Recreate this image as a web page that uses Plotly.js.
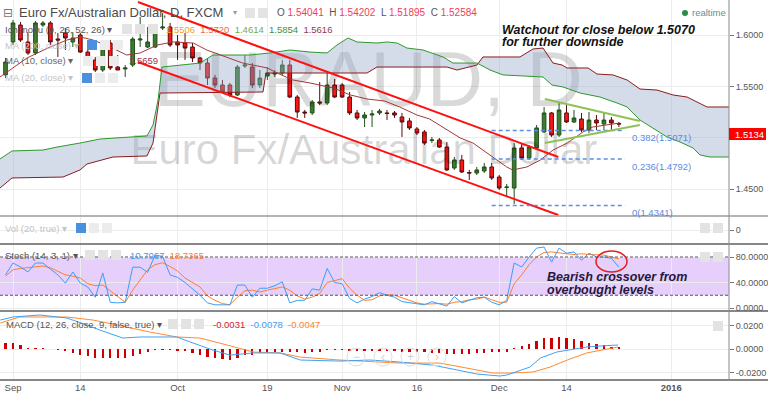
<!DOCTYPE html>
<html><head><meta charset="utf-8">
<script src="https://cdn.plot.ly/plotly-3.0.1.min.js"></script>
<style>html,body{margin:0;padding:0;background:#fff;}#chart{width:768px;height:396px;}</style>
</head><body><div id="chart"></div>
<script>
// ---------- DATA ----------
const dates = ['2015-08-31',
 '2015-09-01','2015-09-02','2015-09-03','2015-09-04','2015-09-07','2015-09-08','2015-09-09','2015-09-10','2015-09-11',
 '2015-09-14','2015-09-15','2015-09-16','2015-09-17','2015-09-18','2015-09-21','2015-09-22','2015-09-23','2015-09-24','2015-09-25',
 '2015-09-28','2015-09-29','2015-09-30',
 '2015-10-01','2015-10-02','2015-10-05','2015-10-06','2015-10-07','2015-10-08','2015-10-09','2015-10-12','2015-10-13','2015-10-14',
 '2015-10-15','2015-10-16','2015-10-19','2015-10-20','2015-10-21','2015-10-22','2015-10-23','2015-10-26','2015-10-27','2015-10-28',
 '2015-10-29','2015-10-30',
 '2015-11-02','2015-11-03','2015-11-04','2015-11-05','2015-11-06','2015-11-09','2015-11-10','2015-11-11','2015-11-12','2015-11-13',
 '2015-11-16','2015-11-17','2015-11-18','2015-11-19','2015-11-20','2015-11-23','2015-11-24','2015-11-25','2015-11-26','2015-11-27',
 '2015-11-30',
 '2015-12-01','2015-12-02','2015-12-03','2015-12-04','2015-12-07','2015-12-08','2015-12-09','2015-12-10','2015-12-11',
 '2015-12-14','2015-12-15','2015-12-16','2015-12-17','2015-12-18','2015-12-21','2015-12-22','2015-12-23'];

const open = [1.5611,1.5932,1.6097,1.5932,1.5825,1.6097,1.6117,1.5961,1.6020,1.5932,1.6000,1.5834,1.5757,1.5659,1.5922,1.5688,
 1.5669,1.5708,1.5951,1.5883,1.5883,1.6068,1.6078,1.5932,1.5922,1.5883,1.5776,1.5727,1.5581,1.5513,1.5513,1.5416,1.5698,1.5688,
 1.5513,1.5601,1.5620,1.5630,1.5708,1.5396,1.5250,1.5241,1.5348,1.5338,1.5513,1.5513,1.5396,1.5241,1.5192,1.5221,1.5241,1.5241,
 1.5241,1.5202,1.5163,1.5085,1.5056,1.4973,1.4978,1.4909,1.4705,1.4783,1.4661,1.4656,1.4676,1.4715,1.4617,1.4515,1.4510,1.4900,
 1.4802,1.4900,1.5056,1.5241,1.5026,1.5241,1.5153,1.5182,1.5075,1.5172,1.5133,1.5172,1.5138];
const high = [1.5776,1.6146,1.6127,1.6029,1.6136,1.6136,1.6136,1.6020,1.6068,1.6029,1.6020,1.5854,1.5786,1.5932,1.5951,1.5805,
 1.5708,1.5981,1.6175,1.6078,1.6097,1.6214,1.6117,1.6000,1.6020,1.5922,1.5786,1.5776,1.5611,1.5562,1.5533,1.5708,1.5805,1.5727,
 1.5659,1.5688,1.5659,1.5757,1.5757,1.5416,1.5270,1.5367,1.5542,1.5630,1.5572,1.5533,1.5445,1.5270,1.5250,1.5270,1.5280,1.5270,
 1.5260,1.5241,1.5192,1.5104,1.5075,1.5007,1.4997,1.4958,1.4812,1.4832,1.4686,1.4715,1.4754,1.4754,1.4637,1.4549,1.4948,1.4948,
 1.4929,1.5124,1.5299,1.5250,1.5338,1.5318,1.5270,1.5241,1.5250,1.5221,1.5241,1.5202,1.5153];
const low = [1.5581,1.5903,1.5932,1.5805,1.5805,1.6078,1.5903,1.5786,1.5854,1.5883,1.5825,1.5727,1.5640,1.5640,1.5659,1.5659,
 1.5591,1.5688,1.5883,1.5873,1.5873,1.6049,1.5883,1.5757,1.5757,1.5737,1.5659,1.5513,1.5484,1.5435,1.5396,1.5406,1.5679,1.5484,
 1.5484,1.5562,1.5591,1.5611,1.5387,1.5192,1.5192,1.5221,1.5318,1.5318,1.5387,1.5387,1.5221,1.5172,1.5104,1.5104,1.5221,1.5172,
 1.5192,1.5007,1.5075,1.5026,1.4929,1.4948,1.4900,1.4676,1.4686,1.4656,1.4588,1.4637,1.4656,1.4588,1.4491,1.4423,1.4354,1.4783,
 1.4783,1.4880,1.5046,1.5007,1.5007,1.5143,1.5143,1.5056,1.5046,1.5075,1.5075,1.5075,1.5104];
const close = [1.5737,1.6117,1.5951,1.5825,1.6117,1.6117,1.5932,1.5951,1.5971,1.5971,1.5834,1.5757,1.5659,1.5922,1.5679,1.5659,
 1.5679,1.5961,1.5961,1.5932,1.6078,1.6078,1.5903,1.5903,1.5873,1.5776,1.5727,1.5581,1.5513,1.5445,1.5416,1.5688,1.5708,1.5513,
 1.5581,1.5630,1.5630,1.5708,1.5396,1.5250,1.5241,1.5348,1.5338,1.5513,1.5396,1.5396,1.5241,1.5192,1.5221,1.5231,1.5260,1.5236,
 1.5221,1.5153,1.5095,1.5046,1.4948,1.4978,1.4909,1.4686,1.4783,1.4666,1.4656,1.4686,1.4715,1.4608,1.4510,1.4520,1.4900,1.4802,
 1.4909,1.5095,1.5241,1.5026,1.5270,1.5153,1.5192,1.5075,1.5172,1.5143,1.5172,1.5143,1.5133];

// Ichimoku cloud spans (trading-day position, price)
const spanBDay = [-1.74,-0.13,6.68,8.96,9.89,13.37,17.91,18.72,19.65,33.42,33.82,47.33,48.66,58.02,59.36,62.03,62.83,67.78,69.52,
 70.86,72.19,73.40,74.06,76.87,78.07,80.21,82.09,83.82,86.10,88.24,90.11,92.78,95.72];
const spanBVal = [1.4510,1.4608,1.4617,1.4686,1.4744,1.4812,1.4822,1.4948,1.5435,1.5445,1.5630,1.5630,1.5688,1.5688,1.5659,1.5708,
 1.5786,1.5786,1.5864,1.5873,1.5727,1.5708,1.5679,1.5679,1.5620,1.5611,1.5562,1.5474,1.5464,1.5416,1.5396,1.5299,1.5299];
const spanADay = [-1.74,-0.13,4.01,5.88,8.96,11.63,13.64,17.91,18.72,19.39,19.92,25.0,26.74,31.68,34.36,37.03,39.71,41.98,43.32,
 44.79,45.99,48.66,50.0,51.34,52.67,54.81,57.49,58.82,62.03,63.77,65.51,70.86,72.06,73.53,75.80,78.48,80.75,82.09,82.89,83.82,
 87.43,89.17,90.91,91.84,93.18,95.72];
const spanAVal = [1.4793,1.4871,1.4880,1.4909,1.4948,1.4987,1.4997,1.5017,1.5124,1.5367,1.5688,1.5727,1.5805,1.5805,1.5825,1.5854,
 1.5834,1.5825,1.5903,1.5971,1.5932,1.5922,1.5932,1.5922,1.5873,1.5854,1.5786,1.5727,1.5727,1.5659,1.5611,1.5591,1.5513,1.5494,
 1.5435,1.5396,1.5338,1.5299,1.5241,1.5172,1.5007,1.4958,1.4900,1.4832,1.4812,1.4812];

// MA (10, close)
const maDay = [-1.74,1.87,4.95,7.2,9.0,10.7,13.0,15.2,17.0,19.3,21.4,24.1,25.9,27.7,30.7,34.0,35.3,37.4,39.7,42.8,45.1,47.3,49.7,
 51.7,54.0,55.7,58.0,59.8,61.5,64.2,66.0,66.8,68.7,70.5,72.2,74.1,76.2,77.5,79.4,81.1];
const maVal = [1.5591,1.5776,1.5883,1.5951,1.5981,1.5951,1.5883,1.5805,1.5825,1.5903,1.5932,1.5922,1.5854,1.5805,1.5727,1.5679,
 1.5630,1.5562,1.5533,1.5484,1.5416,1.5377,1.5357,1.5299,1.5221,1.5182,1.5075,1.4997,1.4948,1.4812,1.4715,1.4686,1.4715,1.4783,
 1.4880,1.4948,1.5056,1.5104,1.5124,1.5143];

// drawn trend lines
const channelDay = [16.7, 72.9];
const channelUpper = [1.6321, 1.4812];
const channelLower = [1.5737, 1.4247];
const triDay = [71.1, 83.8];
const triUpper = [1.5377, 1.5163];
const triLower = [1.4948, 1.5124];
const fibLevels = [1.5071, 1.4792, 1.4341];
const fibLabels = ['0.382(1.5071)', '0.236(1.4792)', '0(1.4341)'];
const fibDays = [64.0, 81.8];

// Stochastic (14,3,1)
const stochK = [52,70.6,64.3,56.5,70.6,70.6,61,52,39,56.5,39,33,17,55,9,8,9,64,64,56,83,81,52,48,40,30,20,8,5,5,5,36,36,17,31,
 31,35,41,8,12,12,30,28,62,40,38,15,8,14,18,24,20,17,10,8,6,5,10,6,3,18,8,12,16,17,9,5,12,70.6,64.3,80,94,95.7,72,94,86,88,75,86,
 80,80,78,64];
const stochD = [50,60,62,63,65,66,63,58,52,50,47,38,35,36,27,18,9,28,45,60,68,71,65,58,47,40,33,19,12,7,5,17,27,28,25,28,31,33,
 28,19,14,17,23,40,43,46,31,20,12,13,19,21,20,16,12,8,6,7,7,6,9,10,13,14,17,13,9,9,38,52,68,80,87,88,86,85,84,85,84,83,83,80,77];

// MACD (12,26,close,9)
const macdHist = [0.0050,0.0055,0.0035,0.0010,0.0010,0.0010,0.0003,
 -0.0005,-0.0015,-0.0030,-0.0045,-0.0060,-0.0075,-0.0075,-0.0075,-0.0075,-0.0070,
 -0.0055,-0.0040,-0.0020,-0.0005,-0.0002,-0.0003,-0.0010,-0.0015,-0.0030,-0.0045,
 -0.0065,-0.0075,-0.0085,-0.0095,-0.0075,-0.0050,-0.0045,-0.0035,-0.0030,-0.0020,
 -0.0020,-0.0020,-0.0025,-0.0028,-0.0025,-0.0020,-0.0005,-0.0003,-0.0005,-0.0010,
 -0.0015,-0.0015,-0.0015,-0.0015,-0.0015,-0.0018,-0.0020,-0.0020,-0.0020,-0.0020,
 -0.0028,-0.0034,-0.0043,-0.0043,-0.0043,-0.0043,-0.0034,-0.0028,-0.0026,-0.0026,
 -0.0020,0.0014,0.0028,0.0045,0.0071,0.0094,0.0094,0.0102,0.0094,0.0085,0.0071,0.0057,
 0.0045,0.0037,0.0023,0.0017];
const macdDay = [-1.7,0,3.6,7.2,9.9,11.6,14.7,17,19.3,21.9,23.7,26.7,29,32.1,35.7,38.4,43.7,47.7,51.7,56.1,59.4,62,65.1,66,69.1,
 70.5,72.7,74.1,76.7,78.5,80.9];
const macdVal = [0.0249,0.0275,0.0292,0.0266,0.0207,0.0164,0.0096,0.0105,0.0105,0.0105,0.0062,-0.0006,-0.0049,-0.0031,-0.0031,
 -0.0091,-0.0100,-0.0091,-0.0108,-0.0134,-0.0176,-0.0210,-0.0227,-0.0219,-0.0151,-0.0074,-0.0023,-0.0006,0.0020,0.0028,0.0037];
const sigDay = [-1.7,0.9,7.2,10.7,15.2,18.3,21.9,25,28.6,32.1,35.7,38.4,43.7,51.7,57.1,60.7,64.2,66.4,69.5,71.8,74.1,76.7,79.4,80.9];
const sigVal = [0.0224,0.0275,0.0275,0.0249,0.0190,0.0147,0.0105,0.0096,0.0037,-0.0023,-0.0031,-0.0066,-0.0091,-0.0117,-0.0117,
 -0.0159,-0.0202,-0.0202,-0.0193,-0.0151,-0.0091,-0.0031,0.0003,0.0020];

// axis ticks
const tickDays = [0, 9, 22, 34, 44, 54, 65, 74, 88];
const tickLabels = ['Sep', '14', 'Oct', '19', 'Nov', '16', 'Dec', '14', '<b>2016</b>'];
const priceTicks = [1.45, 1.50, 1.55, 1.60];
const priceTickText = ['1.4500', '', '1.5500', '1.6000'];
const stochTicks = [0, 40, 80];
const stochTickText = ['0.0000', '40.0000', '80.0000'];
const macdTicks = [-0.02, 0, 0.02];
const macdTickText = ['-0.0200', '0.0000', '0.0200'];

// ---------- CHART ----------
const FONT = 'Liberation Sans, Arial, sans-serif';
const day = dates.map((d, i) => i - 1); // trading-day position (Sep 1 = 0)
const W = 729, H = 380;
const PX = x => x / W, PY = y => 1 - y / H;

const traces = [];
// watermark (behind everything)
traces.push({x:[47.5], y:[1.5494], mode:'text', text:['EURAUD, D'], textposition:'middle center',
  textfont:{family:FONT, size:78, color:'rgba(0,0,0,0.15)'}, hoverinfo:'skip', cliponaxis:false});
traces.push({x:[46.9], y:[1.4850], mode:'text', text:['Euro Fx/Australian Dollar'], textposition:'middle center',
  textfont:{family:FONT, size:42, color:'rgba(0,0,0,0.17)'}, hoverinfo:'skip', cliponaxis:false});
// cloud
traces.push({x:spanBDay, y:spanBVal, mode:'lines', line:{color:'#8b1c1c', width:1}});
traces.push({x:spanADay, y:spanAVal, mode:'lines', line:{color:'#2f982f', width:1}, fill:'tonexty', fillcolor:'rgba(150,172,200,0.42)'});
// MA
traces.push({x:maDay, y:maVal, mode:'lines', line:{color:'#a23a3a', width:1}});
// channel
traces.push({x:channelDay, y:channelUpper, mode:'lines', line:{color:'#ff1010', width:2}});
traces.push({x:channelDay, y:channelLower, mode:'lines', line:{color:'#ff1010', width:2}});
// fib
fibLevels.forEach(v => traces.push({x:fibDays, y:[v, v], mode:'lines', line:{color:'#5b8fe6', width:1.5, dash:'4px,3px'}}));
// triangle
traces.push({x:triDay, y:triUpper, mode:'lines', line:{color:'#8fc255', width:2}});
traces.push({x:triDay, y:triLower, mode:'lines', line:{color:'#8fc255', width:2}});
// candles
traces.push({type:'candlestick', x:day, open:open, high:high, low:low, close:close,
  increasing:{line:{color:'#23501c', width:1}, fillcolor:'#3b7d2f'},
  decreasing:{line:{color:'#5a0c0c', width:1}, fillcolor:'#ff1414'},
  whiskerwidth:0, hoverinfo:'skip'});
// vol placeholder
traces.push({x:[0], y:[0], yaxis:'y2', mode:'markers', marker:{opacity:0}, hoverinfo:'skip'});
// stoch
traces.push({x:day, y:stochD, yaxis:'y3', mode:'lines', line:{color:'#ff7f2a', width:1}});
traces.push({x:day, y:stochK, yaxis:'y3', mode:'lines', line:{color:'#3d9ef5', width:1}});
// macd
traces.push({type:'bar', x:day, y:macdHist, yaxis:'y4', width:0.3, marker:{color:'#cc0000', line:{width:0}}});
traces.push({x:sigDay, y:sigVal, yaxis:'y4', mode:'lines', line:{color:'#ff8a33', width:1}});
traces.push({x:macdDay, y:macdVal, yaxis:'y4', mode:'lines', line:{color:'#3fa2f7', width:1}});

const shapes = [];
const ann = [];
function hline(y, color, width) {
  shapes.push({type:'line', xref:'paper', yref:'paper', x0:0, x1:768/W, y0:PY(y), y1:PY(y), line:{color:color, width:width}});
}
function rect(x0, y0, x1, y1, fill, layer) {
  shapes.push({type:'rect', xref:'paper', yref:'paper', x0:PX(x0), x1:PX(x1), y0:PY(y1), y1:PY(y0), fillcolor:fill, line:{width:0}, layer:layer||'above'});
}
function txt(x, y, t, size, color, extra) {
  ann.push(Object.assign({xref:'paper', yref:'paper', x:PX(x), y:PY(y), text:t, showarrow:false, xanchor:'left', yanchor:'middle',
    font:{family:FONT, size:size, color:color}}, extra || {}));
}
// stoch band + dashed levels
shapes.push({type:'rect', xref:'paper', yref:'y3', x0:0, x1:1, y0:20, y1:80, fillcolor:'#e6cffa', line:{width:0}, layer:'below'});
[80, 20].forEach(v => shapes.push({type:'line', xref:'paper', yref:'y3', x0:0, x1:1, y0:v, y1:v, line:{color:'#555', width:1, dash:'3px,2px'}}));
// separators & right axis line
hline(216, '#9a9a9a', 1.5);
hline(244, '#5f5f5f', 1.5);
hline(311, '#5f5f5f', 1.5);
hline(380, '#5f5f5f', 1.5);
shapes.push({type:'line', xref:'paper', yref:'paper', x0:1, x1:1, y0:0, y1:1, line:{color:'#8a8a8a', width:1}});
// ellipse
shapes.push({type:'circle', xref:'paper', yref:'paper', x0:PX(596), x1:PX(627), y0:PY(272), y1:PY(251), line:{color:'#e22020', width:1.5}});
// price label
rect(729, 128, 766, 140, '#ff0000');
txt(733, 134.5, '1.5134', 9.5, '#ffffff');
// realtime
shapes.push({type:'circle', xref:'paper', yref:'paper', x0:PX(682), x1:PX(688), y0:PY(16), y1:PY(10), fillcolor:'#2c8a4a', line:{width:0}});
txt(690, 13, 'realtime', 9.5, '#5b8fa3');

// legend rows
const GRAY = '#e3e3e3', BLUE = '#4a8fe0';
txt(1, 13, '⊟', 12, '#777', {font:{family:'DejaVu Sans', size:12, color:'#777'}});
txt(17, 13, 'Euro Fx/Australian Dollar, D, FXCM', 13, '#4a4a4a');
txt(231, 13, '▾', 8, '#999');
rect(245, 8, 255, 18, GRAY); rect(258, 8, 268, 18, GRAY);
txt(275, 13, 'O <span style="color:#f03c5a">1.54041</span>  H <span style="color:#f03c5a">1.54202</span>  L <span style="color:#f03c5a">1.51895</span>  C <span style="color:#f03c5a">1.52584</span>', 10, '#555');

txt(3, 29, 'Ichimoku (9, 26, 52, 26) ▾', 9.5, '#555');
rect(122, 24, 132, 34, GRAY); rect(135, 24, 145, 34, GRAY); rect(148, 24, 158, 34, GRAY);
txt(164, 29, '<span style="color:#f5a030">1.5506</span>  <span style="color:#f4664f">1.5720</span>  <span style="color:#6fae3f">1.4614</span>  <span style="color:#3d8f3d">1.5854</span>  <span style="color:#8e3a55">1.5616</span>', 9.5, '#555');

txt(3, 45, 'MA (200, close) ▾', 9.5, '#c4c4c4');
rect(87, 40, 97, 50, BLUE); rect(100, 40, 110, 50, '#ececec'); rect(113, 40, 123, 50, '#ececec');
txt(3, 61, 'MA (10, close) ▾', 9.5, '#666');
rect(83, 56, 93, 66, '#ececec'); rect(96, 56, 106, 66, '#ececec'); rect(109, 56, 119, 66, '#ececec');
txt(127, 61, '1.5659', 9.5, '#a0344a');
txt(3, 78, 'MA (20, close) ▾', 9.5, '#c4c4c4');
rect(82, 73, 92, 83, BLUE); rect(95, 73, 105, 83, '#ececec'); rect(108, 73, 118, 83, '#ececec');

txt(3, 228, 'Vol (20, true) ▾', 9.5, '#c4c4c4');
rect(76, 223, 86, 233, BLUE); rect(89, 223, 99, 233, '#ececec'); rect(102, 223, 112, 233, '#ececec');
rect(700, 223, 710, 233, GRAY); rect(713, 223, 723, 233, GRAY);

txt(3, 255, 'Stoch (14, 3, 1) ▾', 9.5, '#555');
rect(85, 250, 95, 260, GRAY); rect(98, 250, 108, 260, GRAY); rect(111, 250, 121, 260, GRAY);
txt(128, 255, '<span style="color:#3d9ef5">10.7067</span>  <span style="color:#ff7f2a">18.7365</span>', 9.5, '#555');
rect(700, 252, 710, 262, GRAY); rect(713, 252, 723, 262, GRAY);

txt(4, 324, 'MACD (12, 26, close, 9, false, true) ▾', 9.5, '#555');
rect(168, 319, 178, 329, GRAY); rect(181, 319, 191, 329, GRAY); rect(194, 319, 204, 329, GRAY);
txt(211, 324, '<span style="color:#d0202e">-0.0031</span>  <span style="color:#3d9ef5">-0.0078</span>  <span style="color:#ff7f2a">-0.0047</span>', 9.5, '#555');
rect(713, 321, 723, 331, GRAY);

// nav buttons
[[356,'−'],[383,'‹'],[410,'+'],[437,'›']].forEach(([cx, s]) => {
  shapes.push({type:'circle', xref:'paper', yref:'paper', x0:PX(cx-9), x1:PX(cx+9), y0:PY(366), y1:PY(348), line:{color:'#dedede', width:1}});
  ann.push({xref:'paper', yref:'paper', x:PX(cx), y:PY(357), text:s, showarrow:false, xanchor:'center', yanchor:'middle', font:{family:FONT, size:12, color:'#cfcfcf'}});
});

// annotations on chart
txt(500, 30, '<b><i>Watchout for close below 1.5070</i></b>', 12.5, '#111');
txt(500, 42.5, '<b><i>for further downside</i></b>', 12.5, '#111');
txt(545, 277, '<b><i>Bearish crossover from</i></b>', 12.5, '#25183a');
txt(545, 290, '<b><i>overbought levels</i></b>', 12.5, '#25183a');
fibLevels.forEach((v, i) => ann.push({xref:'x', yref:'y', x:82.5, y:v, text:fibLabels[i], showarrow:false, xanchor:'left', yanchor:'top',
  yshift:0.5, font:{family:FONT, size:9.5, color:'#5b8ce0'}}));

const yCommon = {side:'right', anchor:'x', showgrid:true, gridcolor:'#ececec', zeroline:false, showline:false,
  ticks:'outside', ticklen:4, tickcolor:'#777', tickfont:{family:FONT, size:9, color:'#555'}, fixedrange:true};
const layout = {
  width:768, height:396, margin:{l:0, r:39, t:0, b:16}, paper_bgcolor:'#fff', plot_bgcolor:'#fff',
  showlegend:false, hovermode:false, dragmode:false, font:{family:FONT, size:9.5, color:'#555'},
  xaxis:{range:[-1.738, 95.72], anchor:'y4', tickmode:'array', tickvals:tickDays, ticktext:tickLabels, showgrid:true,
    gridcolor:'#ececec', zeroline:false, showline:false, ticks:'', tickfont:{family:FONT, size:9.5, color:'#555'},
    rangeslider:{visible:false}, fixedrange:true},
  yaxis:Object.assign({}, yCommon, {domain:[1-216/380, 1], range:[1.42376, 1.63408], tickmode:'array', tickvals:priceTicks, ticktext:priceTickText}),
  yaxis2:Object.assign({}, yCommon, {domain:[1-244/380, 1-216/380], range:[-1, 1], tickmode:'array', tickvals:[0], ticktext:['0']}),
  yaxis3:Object.assign({}, yCommon, {domain:[1-311/380, 1-244/380], range:[-4.7, 100.4], tickmode:'array', tickvals:stochTicks, ticktext:stochTickText}),
  yaxis4:Object.assign({}, yCommon, {domain:[0, 1-311/380], range:[-0.0261, 0.0326], tickmode:'array', tickvals:macdTicks, ticktext:macdTickText}),
  shapes:shapes, annotations:ann, bargap:0
};
Plotly.newPlot('chart', traces, layout, {staticPlot:true, displayModeBar:false});
</script></body></html>
